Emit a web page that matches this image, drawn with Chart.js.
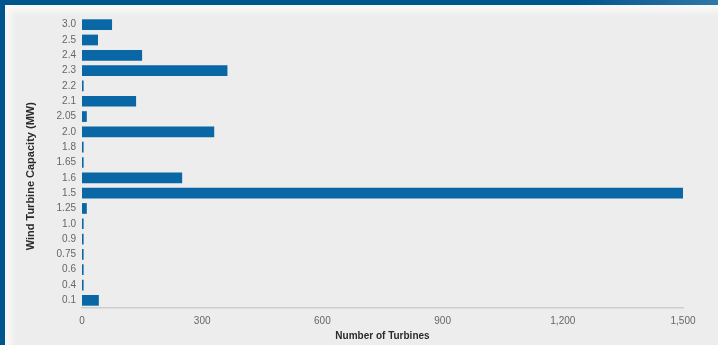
<!DOCTYPE html>
<html>
<head>
<meta charset="utf-8">
<script src="https://cdn.jsdelivr.net/npm/chart.js@4"></script>
<style>
  html, body { margin: 0; padding: 0; }
  body {
    width: 718px; height: 345px; position: relative; overflow: hidden;
    background: linear-gradient(90deg, #00558c 0%, #00558c 80%, #2f78a8 100%);
  }
  #panel {
    position: absolute; left: 5px; top: 5px; right: 0; bottom: 0;
    background: #ededed;
    box-shadow: inset 9px 9px 6px -3px #fafafa;
  }
  #chart { position: absolute; left: 0; top: 0; }
</style>
</head>
<body>
<div id="panel"></div>
<canvas id="chart" width="718" height="345"></canvas>
<script>
// Wind turbine capacity classes (top to bottom) and turbine counts
const capacities = ["3.0", "2.5", "2.4", "2.3", "2.2", "2.1", "2.05", "2.0", "1.8", "1.65",
                    "1.6", "1.5", "1.25", "1.0", "0.9", "0.75", "0.6", "0.4", "0.1"];
const turbines = [75, 40, 150, 363, 4, 135, 12, 330, 4, 4,
                  250, 1500, 12, 4, 4, 4, 4, 4, 42];
const xTicks = [0, 300, 600, 900, 1200, 1500];

const fontFamily = '"Liberation Sans", Arial, Helvetica, sans-serif';

new Chart(document.getElementById("chart"), {
  type: "bar",
  data: {
    labels: capacities,
    datasets: [{
      label: "Number of Turbines",
      data: turbines,
      backgroundColor: "#0a67a6",
      barPercentage: 0.7,
      categoryPercentage: 1.0
    }]
  },
  options: {
    indexAxis: "y",
    responsive: false,
    animation: false,
    layout: { padding: { top: 17, right: 35, bottom: 0, left: 14 } },
    plugins: {
      legend: { display: false },
      tooltip: { enabled: false }
    },
    scales: {
      x: {
        min: 0,
        max: 1500,
        afterBuildTicks: scale => { scale.ticks = xTicks.map(v => ({ value: v })); },
        afterFit: scale => { scale.height = 37; },
        grid: { display: false, drawTicks: false },
        border: { display: true, color: "#cdcdcd", width: 1.5 },
        ticks: {
          padding: 7,
          color: "#666",
          font: { family: fontFamily, size: 10 },
          callback: v => v.toLocaleString("en-US")
        },
        title: {
          display: true,
          text: "Number of Turbines",
          color: "#2b2b2b",
          padding: { top: 0, bottom: 3 },
          font: { family: fontFamily, size: 10, weight: "bold" }
        }
      },
      y: {
        afterFit: scale => { scale.width = 68; },
        grid: { display: false, drawTicks: false },
        border: { display: false },
        ticks: {
          padding: 6,
          color: "#666",
          font: { family: fontFamily, size: 10 }
        },
        title: {
          display: true,
          text: "Wind Turbine Capacity (MW)         ",
          color: "#2b2b2b",
          padding: { top: 10.4, bottom: 0 },
          font: { family: fontFamily, size: 11, weight: "bold" }
        }
      }
    }
  }
});
</script>
</body>
</html>
